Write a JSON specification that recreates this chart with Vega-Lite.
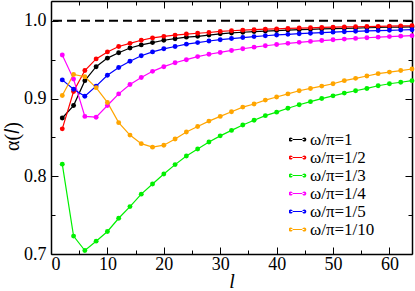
{
  "$schema": "https://vega.github.io/schema/vega-lite/v6.json",
  "width": 361,
  "height": 253,
  "autosize": "none",
  "padding": {"left": 51, "top": 1, "right": 3, "bottom": 37},
  "background": "white",
  "config": {
    "view": {"stroke": null},
    "font": "Liberation Serif",
    "style": {
      "guide-label": {"font": "Liberation Serif", "fontSize": 18, "fill": "black"},
      "guide-title": {"font": "Liberation Serif", "fontSize": 20, "fill": "black"}
    },
    "axis": {
      "labelFont": "Liberation Serif",
      "titleFont": "Liberation Serif",
      "labelFontSize": 18,
      "titleFontSize": 20,
      "labelColor": "black",
      "titleColor": "black",
      "domainColor": "black",
      "domainWidth": 1.5,
      "tickColor": "black",
      "tickWidth": 1,
      "grid": false,
      "titleFontWeight": "normal"
    },
    "legend": {
      "labelFont": "Liberation Serif",
      "labelFontSize": 17,
      "labelColor": "black"
    }
  },
  "datasets": {
    "d": [
      {"s":"ω/π=1","l":2,"a":0.875},{"s":"ω/π=1","l":4,"a":0.891},{"s":"ω/π=1","l":6,"a":0.923},{"s":"ω/π=1","l":8,"a":0.941},{"s":"ω/π=1","l":10,"a":0.952},{"s":"ω/π=1","l":12,"a":0.959},{"s":"ω/π=1","l":14,"a":0.965},{"s":"ω/π=1","l":16,"a":0.969},{"s":"ω/π=1","l":18,"a":0.972},{"s":"ω/π=1","l":20,"a":0.975},{"s":"ω/π=1","l":22,"a":0.977},{"s":"ω/π=1","l":24,"a":0.979},{"s":"ω/π=1","l":26,"a":0.980},{"s":"ω/π=1","l":28,"a":0.9816},{"s":"ω/π=1","l":30,"a":0.9833},{"s":"ω/π=1","l":32,"a":0.9844},{"s":"ω/π=1","l":34,"a":0.9853},{"s":"ω/π=1","l":36,"a":0.9861},{"s":"ω/π=1","l":38,"a":0.9868},{"s":"ω/π=1","l":40,"a":0.9875},{"s":"ω/π=1","l":42,"a":0.9881},{"s":"ω/π=1","l":44,"a":0.9886},{"s":"ω/π=1","l":46,"a":0.9891},{"s":"ω/π=1","l":48,"a":0.9896},{"s":"ω/π=1","l":50,"a":0.99},{"s":"ω/π=1","l":52,"a":0.9904},{"s":"ω/π=1","l":54,"a":0.9907},{"s":"ω/π=1","l":56,"a":0.9911},{"s":"ω/π=1","l":58,"a":0.9914},{"s":"ω/π=1","l":60,"a":0.9917},{"s":"ω/π=1","l":62,"a":0.9919},{"s":"ω/π=1","l":64,"a":0.9922},
      {"s":"ω/π=1/2","l":2,"a":0.861},{"s":"ω/π=1/2","l":4,"a":0.909},{"s":"ω/π=1/2","l":6,"a":0.936},{"s":"ω/π=1/2","l":8,"a":0.951},{"s":"ω/π=1/2","l":10,"a":0.960},{"s":"ω/π=1/2","l":12,"a":0.967},{"s":"ω/π=1/2","l":14,"a":0.971},{"s":"ω/π=1/2","l":16,"a":0.975},{"s":"ω/π=1/2","l":18,"a":0.978},{"s":"ω/π=1/2","l":20,"a":0.980},{"s":"ω/π=1/2","l":22,"a":0.9816},{"s":"ω/π=1/2","l":24,"a":0.983},{"s":"ω/π=1/2","l":26,"a":0.984},{"s":"ω/π=1/2","l":28,"a":0.985},{"s":"ω/π=1/2","l":30,"a":0.9863},{"s":"ω/π=1/2","l":32,"a":0.9872},{"s":"ω/π=1/2","l":34,"a":0.988},{"s":"ω/π=1/2","l":36,"a":0.9886},{"s":"ω/π=1/2","l":38,"a":0.9892},{"s":"ω/π=1/2","l":40,"a":0.9897},{"s":"ω/π=1/2","l":42,"a":0.9902},{"s":"ω/π=1/2","l":44,"a":0.9907},{"s":"ω/π=1/2","l":46,"a":0.991},{"s":"ω/π=1/2","l":48,"a":0.9915},{"s":"ω/π=1/2","l":50,"a":0.9918},{"s":"ω/π=1/2","l":52,"a":0.9921},{"s":"ω/π=1/2","l":54,"a":0.9924},{"s":"ω/π=1/2","l":56,"a":0.9927},{"s":"ω/π=1/2","l":58,"a":0.9929},{"s":"ω/π=1/2","l":60,"a":0.9932},{"s":"ω/π=1/2","l":62,"a":0.9934},{"s":"ω/π=1/2","l":64,"a":0.9936},
      {"s":"ω/π=1/3","l":2,"a":0.8156},{"s":"ω/π=1/3","l":4,"a":0.723},{"s":"ω/π=1/3","l":6,"a":0.7045},{"s":"ω/π=1/3","l":8,"a":0.7165},{"s":"ω/π=1/3","l":10,"a":0.729},{"s":"ω/π=1/3","l":12,"a":0.746},{"s":"ω/π=1/3","l":14,"a":0.761},{"s":"ω/π=1/3","l":16,"a":0.777},{"s":"ω/π=1/3","l":18,"a":0.790},{"s":"ω/π=1/3","l":20,"a":0.803},{"s":"ω/π=1/3","l":22,"a":0.815},{"s":"ω/π=1/3","l":24,"a":0.826},{"s":"ω/π=1/3","l":26,"a":0.835},{"s":"ω/π=1/3","l":28,"a":0.844},{"s":"ω/π=1/3","l":30,"a":0.852},{"s":"ω/π=1/3","l":32,"a":0.859},{"s":"ω/π=1/3","l":34,"a":0.866},{"s":"ω/π=1/3","l":36,"a":0.872},{"s":"ω/π=1/3","l":38,"a":0.878},{"s":"ω/π=1/3","l":40,"a":0.8825},{"s":"ω/π=1/3","l":42,"a":0.8875},{"s":"ω/π=1/3","l":44,"a":0.892},{"s":"ω/π=1/3","l":46,"a":0.896},{"s":"ω/π=1/3","l":48,"a":0.900},{"s":"ω/π=1/3","l":50,"a":0.9035},{"s":"ω/π=1/3","l":52,"a":0.907},{"s":"ω/π=1/3","l":54,"a":0.910},{"s":"ω/π=1/3","l":56,"a":0.913},{"s":"ω/π=1/3","l":58,"a":0.9165},{"s":"ω/π=1/3","l":60,"a":0.919},{"s":"ω/π=1/3","l":62,"a":0.921},{"s":"ω/π=1/3","l":64,"a":0.923},
      {"s":"ω/π=1/4","l":2,"a":0.956},{"s":"ω/π=1/4","l":4,"a":0.925},{"s":"ω/π=1/4","l":6,"a":0.877},{"s":"ω/π=1/4","l":8,"a":0.876},{"s":"ω/π=1/4","l":10,"a":0.891},{"s":"ω/π=1/4","l":12,"a":0.906},{"s":"ω/π=1/4","l":14,"a":0.918},{"s":"ω/π=1/4","l":16,"a":0.927},{"s":"ω/π=1/4","l":18,"a":0.935},{"s":"ω/π=1/4","l":20,"a":0.941},{"s":"ω/π=1/4","l":22,"a":0.946},{"s":"ω/π=1/4","l":24,"a":0.950},{"s":"ω/π=1/4","l":26,"a":0.954},{"s":"ω/π=1/4","l":28,"a":0.957},{"s":"ω/π=1/4","l":30,"a":0.9593},{"s":"ω/π=1/4","l":32,"a":0.9619},{"s":"ω/π=1/4","l":34,"a":0.9641},{"s":"ω/π=1/4","l":36,"a":0.9661},{"s":"ω/π=1/4","l":38,"a":0.9679},{"s":"ω/π=1/4","l":40,"a":0.9695},{"s":"ω/π=1/4","l":42,"a":0.971},{"s":"ω/π=1/4","l":44,"a":0.9723},{"s":"ω/π=1/4","l":46,"a":0.9735},{"s":"ω/π=1/4","l":48,"a":0.9746},{"s":"ω/π=1/4","l":50,"a":0.9756},{"s":"ω/π=1/4","l":52,"a":0.9765},{"s":"ω/π=1/4","l":54,"a":0.9774},{"s":"ω/π=1/4","l":56,"a":0.9782},{"s":"ω/π=1/4","l":58,"a":0.979},{"s":"ω/π=1/4","l":60,"a":0.9797},{"s":"ω/π=1/4","l":62,"a":0.9803},{"s":"ω/π=1/4","l":64,"a":0.9809},
      {"s":"ω/π=1/5","l":2,"a":0.924},{"s":"ω/π=1/5","l":4,"a":0.912},{"s":"ω/π=1/5","l":6,"a":0.903},{"s":"ω/π=1/5","l":8,"a":0.916},{"s":"ω/π=1/5","l":10,"a":0.930},{"s":"ω/π=1/5","l":12,"a":0.940},{"s":"ω/π=1/5","l":14,"a":0.948},{"s":"ω/π=1/5","l":16,"a":0.955},{"s":"ω/π=1/5","l":18,"a":0.960},{"s":"ω/π=1/5","l":20,"a":0.964},{"s":"ω/π=1/5","l":22,"a":0.967},{"s":"ω/π=1/5","l":24,"a":0.970},{"s":"ω/π=1/5","l":26,"a":0.972},{"s":"ω/π=1/5","l":28,"a":0.974},{"s":"ω/π=1/5","l":30,"a":0.9757},{"s":"ω/π=1/5","l":32,"a":0.9772},{"s":"ω/π=1/5","l":34,"a":0.9785},{"s":"ω/π=1/5","l":36,"a":0.9797},{"s":"ω/π=1/5","l":38,"a":0.9808},{"s":"ω/π=1/5","l":40,"a":0.9818},{"s":"ω/π=1/5","l":42,"a":0.9826},{"s":"ω/π=1/5","l":44,"a":0.9834},{"s":"ω/π=1/5","l":46,"a":0.9841},{"s":"ω/π=1/5","l":48,"a":0.9848},{"s":"ω/π=1/5","l":50,"a":0.9854},{"s":"ω/π=1/5","l":52,"a":0.986},{"s":"ω/π=1/5","l":54,"a":0.9865},{"s":"ω/π=1/5","l":56,"a":0.987},{"s":"ω/π=1/5","l":58,"a":0.9874},{"s":"ω/π=1/5","l":60,"a":0.9878},{"s":"ω/π=1/5","l":62,"a":0.9882},{"s":"ω/π=1/5","l":64,"a":0.9886},
      {"s":"ω/π=1/10","l":2,"a":0.904},{"s":"ω/π=1/10","l":4,"a":0.931},{"s":"ω/π=1/10","l":6,"a":0.928},{"s":"ω/π=1/10","l":8,"a":0.914},{"s":"ω/π=1/10","l":10,"a":0.895},{"s":"ω/π=1/10","l":12,"a":0.869},{"s":"ω/π=1/10","l":14,"a":0.853},{"s":"ω/π=1/10","l":16,"a":0.842},{"s":"ω/π=1/10","l":18,"a":0.8375},{"s":"ω/π=1/10","l":20,"a":0.840},{"s":"ω/π=1/10","l":22,"a":0.848},{"s":"ω/π=1/10","l":24,"a":0.857},{"s":"ω/π=1/10","l":26,"a":0.864},{"s":"ω/π=1/10","l":28,"a":0.871},{"s":"ω/π=1/10","l":30,"a":0.877},{"s":"ω/π=1/10","l":32,"a":0.883},{"s":"ω/π=1/10","l":34,"a":0.889},{"s":"ω/π=1/10","l":36,"a":0.893},{"s":"ω/π=1/10","l":38,"a":0.898},{"s":"ω/π=1/10","l":40,"a":0.902},{"s":"ω/π=1/10","l":42,"a":0.906},{"s":"ω/π=1/10","l":44,"a":0.910},{"s":"ω/π=1/10","l":46,"a":0.913},{"s":"ω/π=1/10","l":48,"a":0.916},{"s":"ω/π=1/10","l":50,"a":0.919},{"s":"ω/π=1/10","l":52,"a":0.923},{"s":"ω/π=1/10","l":54,"a":0.926},{"s":"ω/π=1/10","l":56,"a":0.929},{"s":"ω/π=1/10","l":58,"a":0.932},{"s":"ω/π=1/10","l":60,"a":0.934},{"s":"ω/π=1/10","l":62,"a":0.936},{"s":"ω/π=1/10","l":64,"a":0.938}
    ],
    "ref": [{"r": 1.0}]
  },
  "resolve": {"axis": {"x": "independent", "y": "independent"}},
  "layer": [
    {
      "data": {"name": "ref"},
      "mark": {"type": "rule", "color": "black", "strokeWidth": 2, "strokeDash": [9, 5]},
      "encoding": {
        "y": {"field": "r", "type": "quantitative", "scale": {"domain": [0.7, 1.0255], "nice": false, "zero": false},
          "axis": {"orient": "left", "values": [0.7, 0.75, 0.8, 0.85, 0.9, 0.95, 1.0], "format": ".1f",
            "labelFont": "Liberation Serif", "labelFontSize": 18, "titleFont": "Liberation Serif", "titleFontSize": 20,
            "labelExpr": "abs(datum.value*10 - round(datum.value*10)) < 0.001 ? format(datum.value, '.1f') : ''",
            "tickSize": {"condition": {"test": "abs(datum.value*10 - round(datum.value*10)) < 0.001", "value": -7}, "value": -4},
            "labelPadding": 12, "title": "α(𝑙)", "titlePadding": 1, "titleY": 135}}
      }
    },
    {
      "data": {"name": "d"},
      "mark": {"type": "line", "strokeWidth": 1.2},
      "encoding": {
        "x": {"field": "l", "type": "quantitative", "scale": {"domain": [0, 64], "nice": false, "zero": false},
          "axis": {"orient": "bottom", "values": [0, 5, 10, 15, 20, 25, 30, 35, 40, 45, 50, 55, 60], "format": "d",
            "labelFont": "Liberation Serif", "labelFontSize": 18, "titleFont": "Liberation Serif", "titleFontSize": 20,
            "labelExpr": "datum.value % 10 === 0 ? datum.label : ''",
            "tickSize": {"condition": {"test": "datum.value % 10 === 0", "value": -7}, "value": -4},
            "labelPadding": 8, "title": "l", "titleFontStyle": "italic", "titlePadding": -2}},
        "y": {"field": "a", "type": "quantitative",
          "axis": {"orient": "right", "values": [0.7, 0.75, 0.8, 0.85, 0.9, 0.95, 1.0], "labels": false, "title": null,
            "tickSize": {"condition": {"test": "abs(datum.value*10 - round(datum.value*10)) < 0.001", "value": -7}, "value": -4}}},
        "color": {"field": "s", "type": "nominal",
          "scale": {"domain": ["ω/π=1", "ω/π=1/2", "ω/π=1/3", "ω/π=1/4", "ω/π=1/5", "ω/π=1/10"],
            "range": ["#000000", "#ff0000", "#00f000", "#ff00ff", "#0000ff", "#ffa500"]},
          "legend": {"orient": "none", "legendX": 238, "legendY": 131, "title": null, "padding": 0,
            "symbolType": "M-1,-0.08H1V0.08H-1Z M-1.3,0A0.3,0.3 0 1,0 -0.7,0A0.3,0.3 0 1,0 -1.3,0Z M0.7,0A0.3,0.3 0 1,0 1.3,0A0.3,0.3 0 1,0 0.7,0Z",
            "symbolSize": 185, "symbolStrokeWidth": 0, "symbolOpacity": 1, "rowPadding": 0, "clipHeight": 15, "labelOffset": 4,
            "labelFont": "Liberation Serif", "labelFontSize": 17,
            "encode": {"symbols": {"update": {"fill": {"field": "value", "scale": "color"}, "strokeWidth": {"value": 0}}}}}},
        "detail": {"field": "s"}
      }
    },
    {
      "data": {"name": "d"},
      "mark": {"type": "point", "filled": true, "size": 24, "opacity": 1},
      "encoding": {
        "x": {"field": "l", "type": "quantitative",
          "axis": {"orient": "top", "values": [0, 5, 10, 15, 20, 25, 30, 35, 40, 45, 50, 55, 60], "labels": false, "title": null,
            "tickSize": {"condition": {"test": "datum.value % 10 === 0", "value": -7}, "value": -4}}},
        "y": {"field": "a", "type": "quantitative", "axis": null},
        "color": {"field": "s", "type": "nominal",
          "legend": {"orient": "none", "legendX": 238, "legendY": 131, "title": null, "padding": 0,
            "symbolType": "M-1,-0.08H1V0.08H-1Z M-1.3,0A0.3,0.3 0 1,0 -0.7,0A0.3,0.3 0 1,0 -1.3,0Z M0.7,0A0.3,0.3 0 1,0 1.3,0A0.3,0.3 0 1,0 0.7,0Z",
            "symbolSize": 185, "symbolStrokeWidth": 0, "symbolOpacity": 1, "rowPadding": 0, "clipHeight": 15, "labelOffset": 4,
            "labelFont": "Liberation Serif", "labelFontSize": 17,
            "encode": {"symbols": {"update": {"fill": {"field": "value", "scale": "color"}, "strokeWidth": {"value": 0}}}}}}
      }
    }
  ]
}
